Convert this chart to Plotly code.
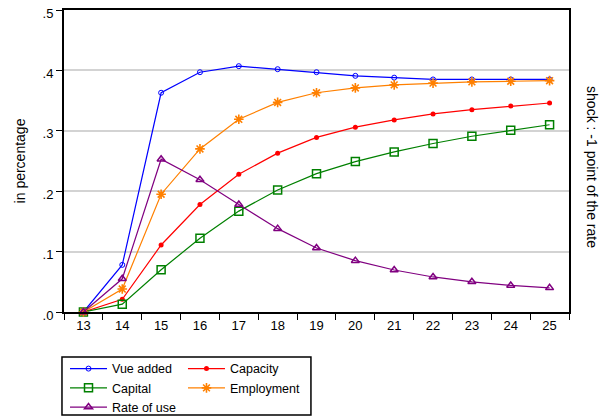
import plotly.graph_objects as go

years = ["13", "14", "15", "16", "17", "18", "19", "20", "21", "22", "23", "24", "25"]

value_added = [0.000, 0.078, 0.363, 0.397, 0.407, 0.402, 0.397, 0.391, 0.388, 0.385, 0.385, 0.385, 0.385]
capacity = [0.000, 0.021, 0.111, 0.178, 0.228, 0.263, 0.289, 0.306, 0.318, 0.328, 0.335, 0.341, 0.346]
capital = [0.000, 0.013, 0.070, 0.122, 0.167, 0.202, 0.229, 0.249, 0.265, 0.279, 0.291, 0.301, 0.310]
employment = [0.000, 0.038, 0.195, 0.270, 0.319, 0.347, 0.363, 0.371, 0.376, 0.379, 0.381, 0.382, 0.383]
rate_of_use = [0.000, 0.055, 0.253, 0.219, 0.178, 0.138, 0.106, 0.085, 0.0695, 0.058, 0.050, 0.044, 0.040]

y_tickvals = [0, 0.1, 0.2, 0.3, 0.4, 0.5]
y_ticktext = [".0", ".1", ".2", ".3", ".4", ".5"]

FONT = "Liberation Sans, Arial, sans-serif"

series = [
    ("Vue added", value_added, "#0000ff", "circle-open", 5, 1.0, "legend"),
    ("Capacity", capacity, "#ff0000", "circle", 5, 0.0, "legend2"),
    ("Capital", capital, "#008000", "square-open", 8, 1.5, "legend"),
    ("Employment", employment, "#ff8000", "asterisk-open", 8, 1.6, "legend2"),
    ("Rate of use", rate_of_use, "#800080", "triangle-up-open", 7, 1.5, "legend"),
]

fig = go.Figure()
for name, vals, color, sym, size, lw, leg in series:
    fig.add_trace(go.Scatter(
        x=years, y=vals, name=name, mode="lines+markers",
        line=dict(color=color, width=1.2),
        marker=dict(symbol=sym, size=size, color=color,
                    line=dict(color=color, width=lw)),
        cliponaxis=False, legend=leg,
    ))

# the page body adds an 8px margin, so the figure is 8px smaller than the window
fig.update_layout(
    width=599, height=411,
    margin=dict(l=56, r=38, t=2, b=107, autoexpand=False),
    paper_bgcolor="white", plot_bgcolor="white",
    font=dict(family=FONT, size=13, color="#000000"),
    xaxis=dict(
        type="category", range=[-0.5, len(years) - 0.5],
        tickson="boundaries", ticks="outside", ticklen=6,
        tickwidth=1.2, tickcolor="#000000",
        showline=True, linecolor="#000000", linewidth=2, mirror=True,
        showgrid=False, zeroline=False, automargin=False,
        tickfont=dict(size=13), ticklabeloverflow="allow",
    ),
    yaxis=dict(
        range=[0, 0.5], tickvals=y_tickvals, ticktext=y_ticktext,
        ticks="outside", ticklen=6, tickwidth=1.2, tickcolor="#000000",
        showline=True, linecolor="#000000", linewidth=2, mirror=True,
        showgrid=True, gridcolor="#d3d3d3", gridwidth=1.5, zeroline=False,
        automargin=False, ticklabeloverflow="allow", ticklabelshift=3,
        tickfont=dict(size=13),
        title=dict(text="in percentage", font=dict(size=14), standoff=14),
    ),
    legend=dict(
        x=0.002, y=-0.139, xanchor="left", yanchor="top",
        orientation="v", itemwidth=37, bgcolor="rgba(0,0,0,0)",
        font=dict(size=12.5), borderwidth=0,
    ),
    legend2=dict(
        x=0.2356, y=-0.139, xanchor="left", yanchor="top",
        orientation="v", itemwidth=37, bgcolor="rgba(0,0,0,0)",
        font=dict(size=12.5), borderwidth=0,
    ),
    shapes=[dict(
        type="rect", xref="paper", yref="paper",
        x0=-0.004, x1=0.489, y0=-0.341, y1=-0.149,
        line=dict(color="#000000", width=1.5), fillcolor="rgba(0,0,0,0)",
    )],
    annotations=[dict(
        text="shock : -1 point of the rate", xref="paper", yref="paper",
        x=1.0455, y=0.48, xanchor="center", yanchor="middle",
        textangle=90, showarrow=False, font=dict(size=14),
    )],
)

fig.write_html("out.html")
